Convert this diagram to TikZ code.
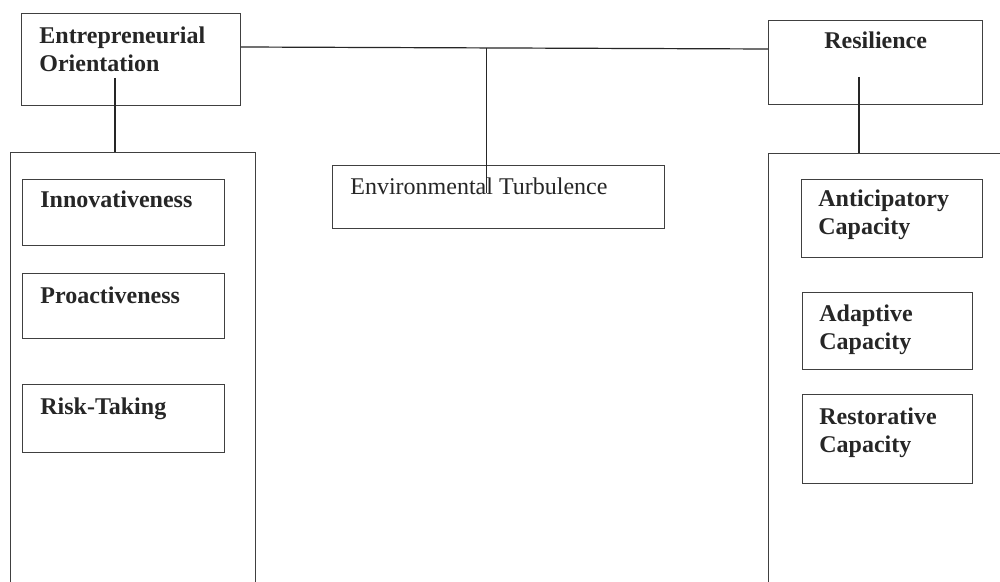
\documentclass[tikz,border=0pt]{standalone}
\usepackage{fontspec}
\setmainfont{Liberation Serif}
\usetikzlibrary{calc}
\tikzset{
  box/.style={draw=black!75, line width=0.6pt, anchor=north west, inner sep=0pt},
  txt/.style={anchor=north west, inner sep=0pt, align=left,
              text=black!85, font=\bfseries\fontsize{12}{14}\selectfont},
  link/.style={draw=black!85, line width=0.6pt},
}
\begin{document}
\begin{tikzpicture}[x=0.5pt,y=-0.5pt]%{{{
\clip (0,0) rectangle (1000,582);
\fill [white] (0,0) rectangle (1000,582);
%
% Dimensions (open frames)
\node [box, minimum width=122.5pt, minimum height=240pt] (eodims)  at ( 10,152) {};
\node [box, minimum width=125pt,   minimum height=240pt] (resdims) at (768,153) {};
%
% Constructs
\node [box, minimum width=109.5pt, minimum height=46pt]   (eo)  at ( 21, 13) {};
\node [box, minimum width=107pt,   minimum height=42pt]   (res) at (768, 20) {};
\node [box, minimum width=166pt,   minimum height=31.5pt] (env) at (332,165) {};
%
% Entrepreneurial orientation
\node [box, minimum width=101pt, minimum height=33pt]   (inno) at (22,179) {};
\node [box, minimum width=101pt, minimum height=32.5pt] (proa) at (22,273) {};
\node [box, minimum width=101pt, minimum height=34pt]   (risk) at (22,384) {};
%
% Resilience
\node [box, minimum width=90.5pt, minimum height=39pt]   (anti) at (801,179) {};
\node [box, minimum width=85pt,   minimum height=38.5pt] (adap) at (802,292) {};
\node [box, minimum width=85pt,   minimum height=44.5pt] (rest) at (802,394) {};
%
% Labels
\node [txt] (eo-t)   at ($(eo.north west)+(18,13)$)   {Entrepreneurial\\Orientation};
\node [txt] (res-t)  at ($(res.north west)+(56,11)$)  {Resilience};
\node [txt, font=\fontsize{12}{14}\selectfont]
            (env-t)  at ($(env.north west)+(18,12)$)  {Environmental Turbulence};
\node [txt] (inno-t) at ($(inno.north west)+(18,11)$) {Innovativeness};
\node [txt] (proa-t) at ($(proa.north west)+(18,13)$) {Proactiveness};
\node [txt] (risk-t) at ($(risk.north west)+(18,13)$) {Risk-Taking};
\node [txt] (anti-t) at ($(anti.north west)+(17,10)$) {Anticipatory\\Capacity};
\node [txt] (adap-t) at ($(adap.north west)+(17,12)$) {Adaptive\\Capacity};
\node [txt] (rest-t) at ($(rest.north west)+(17,13)$) {Restorative\\Capacity};
%
% Links
\coordinate (eolink)  at ($(eo.north east)+(0,34)$);
\coordinate (reslink) at ($(res.north west)+(0,29)$);
\coordinate (fork)    at ($(eolink)!0.466!(reslink)$);
\coordinate (envmid)  at ($(env.north west)+(0,28)$);
\coordinate (eodrop)  at ($(eo.north west)+(94,65)$);
\coordinate (resdrop) at ($(res.north west)+(91,57)$);
\draw [link] (eolink) -- (reslink);
\draw [link] (fork) -- (fork |- envmid);
\draw [link] (eodrop) -- (eodrop |- eodims.north);
\draw [link] (resdrop) -- (resdrop |- resdims.north);
%
\end{tikzpicture}
\end{document}
